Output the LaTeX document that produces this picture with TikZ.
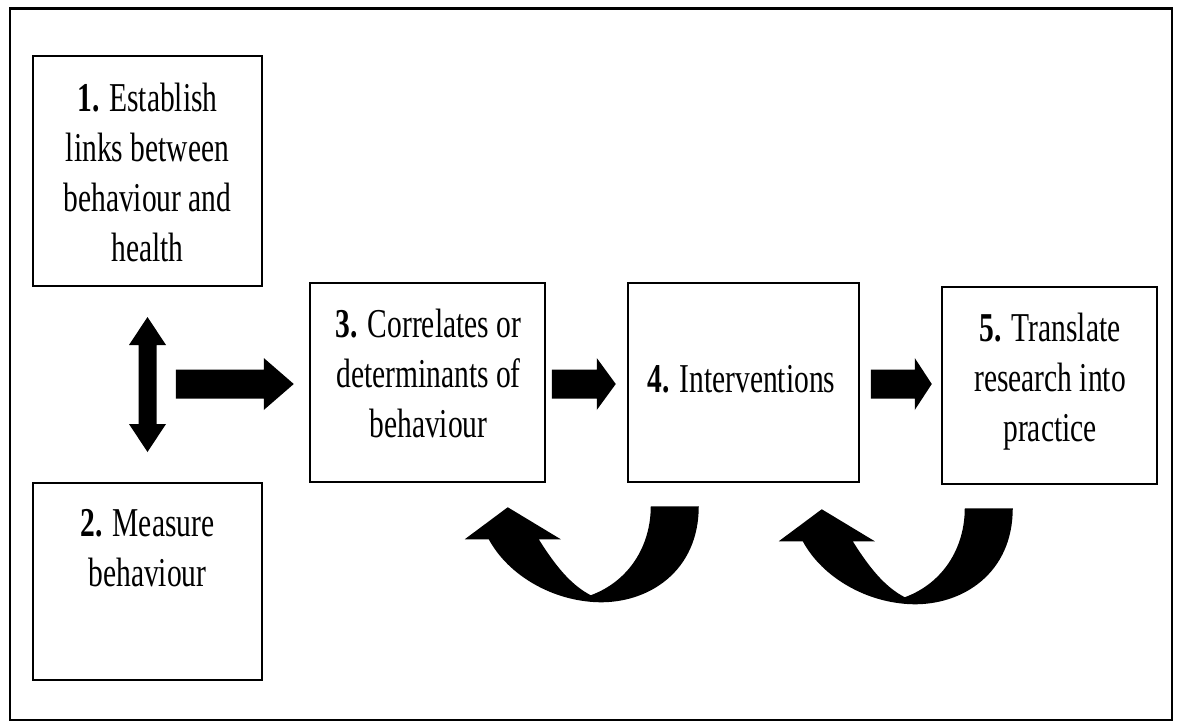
\documentclass[tikz,border=0pt]{standalone}
\usepackage{fontspec}
\setmainfont{Liberation Serif}[FakeStretch=0.72]
\usetikzlibrary{calc}

\tikzset{
  frame/.style={draw=black, line width=2.5pt},
  box/.style={draw=black, line width=2.5pt, fill=white, inner sep=0pt},
  txt/.style={inner sep=0pt, align=center, anchor=north,
              font=\fontsize{41}{50}\selectfont},
  fat/.style={fill=black},
  % straight block arrow, tip at the origin: {length}{head length}
  pics/fatarrow/.style n args={2}{code={
    \fill[fat] (0,0) -- (-#2,-26) -- (-#2,-14.5) -- (-#1,-14.5)
      -- (-#1,14.5) -- (-#2,14.5) -- (-#2,26) -- cycle;
  }},
  % two-headed vertical block arrow centred on the origin
  pics/updown/.style={code={
    \fill[fat] (0,-67.5) -- (18.5,-39.5) -- (9,-39.5) -- (9,39.5)
      -- (18.5,39.5) -- (0,67.5) -- (-18.5,39.5) -- (-9,39.5)
      -- (-9,-39.5) -- (-18.5,-39.5) -- cycle;
  }},
  % U-turn arrow pointing back to the left, origin at a box's south west
  pics/uturn/.style={code={
    \fill[fat] (24,23) .. controls (24,63) and (2,98) .. (-36,112)
      .. controls (-53,103) and (-68,88) .. (-88,56)
      -- (-66,56) -- (-119,24) -- (-162,56) -- (-138,56)
      .. controls (-118,93) and (-73,118) .. (-28,119)
      .. controls (22,120) and (72,88) .. (72,23) -- cycle;
  }}
}

\begin{document}
\begin{tikzpicture}[x=1pt, y=-1pt]
  \useasboundingbox (0,0) rectangle (1182,722);
  \draw[frame] (10,8.5) rectangle (1172,720);

  % boxes
  \node[box, minimum width=229pt, minimum height=230pt] (b1) at (147.5,171) {};
  \node[box, minimum width=229pt, minimum height=197pt] (b2) at (147.5,581.5) {};
  \node[box, minimum width=235pt, minimum height=199pt] (b3) at (427.5,382.5) {};
  \node[box, minimum width=231pt, minimum height=199pt] (b4) at (743.5,382.5) {};
  \node[box, minimum width=215pt, minimum height=197pt] (b5) at (1049.5,385.5) {};

  % box texts
  \node[txt] (t1) at ($(b1.north)+(0,28)$)
    {\textbf{1.} Establish\\links between\\behaviour and\\health};
  \node[txt] (t2) at ($(b2.north)+(0,27)$) {\textbf{2.} Measure\\behaviour};
  \node[txt] (t3) at ($(b3.north)+(1,27)$)
    {\textbf{3.} Correlates or\\determinants of\\behaviour};
  \node[txt, anchor=base] (t4) at (741.5,392) {\textbf{4.} Interventions};
  \node[txt] (t5) at ($(b5.north)+(0.5,27)$)
    {\textbf{5.} Translate\\research into\\practice};

  % links between the stages
  \pic at ($(b1.south)!0.5!(b2.north)$) {updown};
  \pic at ($(b3.west)+(-15,1.5)$) {fatarrow={118}{30}};
  \pic at ($(b4.west)+(-11,1.5)$) {fatarrow={64}{19}};
  \pic at ($(b5.west)+(-9,-1.5)$) {fatarrow={61}{17}};

  % feedback loops
  \pic at (b4.south west) {uturn};
  \pic at (b5.south west) {uturn};
\end{tikzpicture}
\end{document}
